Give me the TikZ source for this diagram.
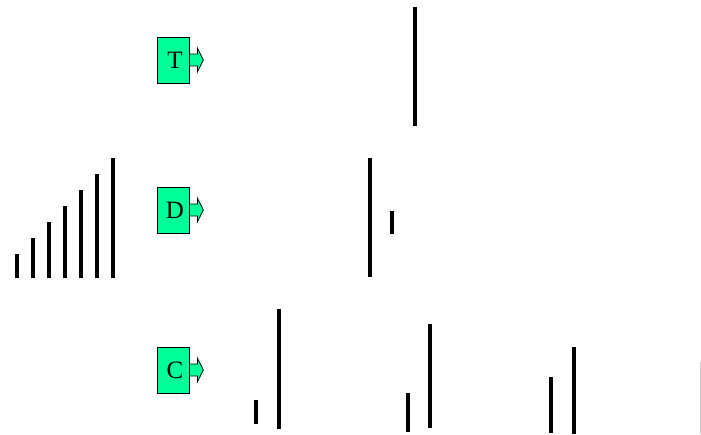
\documentclass[tikz,border=0pt]{standalone}
\usepackage{fontspec}
\setmainfont{Liberation Serif}
\usepackage{xcolor}
\usetikzlibrary{positioning}
\definecolor{unitgreen}{RGB}{0,255,153}

\begin{document}
\begin{tikzpicture}[
  x=1pt,y=-1pt,
  unit/.style={draw,line width=0.8pt,fill=unitgreen,inner sep=0pt,minimum width=32pt,minimum height=46pt,font=\fontsize{25}{25}\selectfont},
  outarr/.style={draw,line width=0.8pt,fill=unitgreen},
  bar/.style={line width=4pt},
  slimbar/.style={line width=3.5pt},
]
\useasboundingbox (0,0) rectangle (701,434);
\node[unit] (t) at (173,60) {\kern4pt T};
\node[unit] (d) at (173,210) {\kern4pt D};
\node[unit] (c) at (173,370) {\kern4pt C};
\foreach \n in {t,d,c}
  \draw[outarr] (\n.east) ++(0,-6) -- ++(8,0) -- ++(0,-6) -- ++(6,12) -- ++(-6,12) -- ++(0,-6) -- ++(-8,0) -- cycle;
% staircase
\foreach \i in {0,...,6}
  \draw[bar] ({17+16*\i},278) -- ++(0,{-24-16*\i});
% T row
\draw[bar] (415,7) -- (415,126);
% D row
\draw[bar] (370,158) -- (370,277);
\draw[bar] (392,211) -- (392,234);
% C row
\foreach \x/\top/\bot in {256/400/424,279/309/429,408/393/432,430/324/428,551/377/433,574/347/434}
  \draw[slimbar] (\x,\top) -- (\x,\bot);
\draw[black!20,line width=1pt] (700,362) -- (700,434);
\end{tikzpicture}
\end{document}
